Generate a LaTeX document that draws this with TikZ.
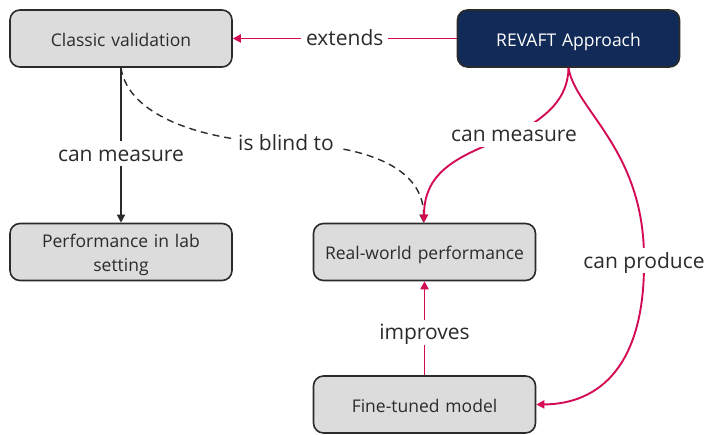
\documentclass[tikz,border=0pt]{standalone}
\usepackage{fontspec}
\setmainfont{Open Sans}
\usetikzlibrary{arrows.meta}
\definecolor{ink}{HTML}{2B2B2B}
\definecolor{boxfill}{HTML}{DCDCDC}
\definecolor{navy}{HTML}{122A57}
\definecolor{rose}{HTML}{D40A55}
% vertical strut that puts the baseline 7.7pt under the box centre
\newcommand{\boxstrut}{\rule[-5pt]{0pt}{25.4pt}}
\tikzset{
  box/.style={draw=ink, line width=1.6pt, fill=boxfill, rounded corners=10pt,
    minimum width=222pt, minimum height=57pt, text width=205pt, align=center,
    text=ink, font=\fontsize{17.5}{24}\selectfont, inner sep=0pt},
  darkbox/.style={box, fill=navy, text=white},
  lbl/.style={fill=white, text=ink, font=\fontsize{21}{25}\selectfont,
    inner xsep=5pt, inner ysep=4pt, text height=16pt, text depth=1pt},
  pinkline/.style={draw=rose, line width=1.9pt, -{Triangle[length=8pt,width=8pt]}},
  blackline/.style={draw=ink, line width=1.4pt, -{Triangle[length=8pt,width=8pt]}},
  dashline/.style={blackline, dash pattern=on 7pt off 5pt}
}
\begin{document}
\begin{tikzpicture}[x=1pt, y=-1pt]
\useasboundingbox (0,0) rectangle (708,435);
% boxes
\node[box]     (classic) at (121,38.5)  {\boxstrut Classic validation};
\node[darkbox] (revaft)  at (568.5,38.5) {\boxstrut REVAFT Approach};
\node[box]     (lab)     at (121,252)   {\rule{0pt}{19.6pt}Performance in lab\\setting};
\node[box]     (real)    at (424.5,252) {\boxstrut Real-world performance};
\node[box]     (tuned)   at (424.5,404.5) {\boxstrut Fine-tuned model};
% label anchors
\coordinate (blindpt) at (286,143.5);
\coordinate (measpt)  at (514,134.5);
\coordinate (prodpt)  at (644,260.5);
% connectors
\draw[pinkline] (revaft.west) -- node[lbl]{extends} (classic.east);
\draw[blackline] (classic.south) -- node[lbl, pos=0.555]{can measure} (lab.north);
\draw[dashline] (classic.south)
  .. controls (128,115) and (200,141) .. (blindpt)
  .. controls (360,145) and (424,165) .. ([xshift=-1pt]real.north);
\node[lbl] at (blindpt) {is blind to};
\draw[pinkline] (revaft.south)
  .. controls (568,100) and (545,118) .. (measpt)
  .. controls (460,155) and (424,170) .. ([xshift=-0.5pt]real.north);
\node[lbl] at (measpt) {can measure};
\draw[pinkline] (revaft.south)
  .. controls (575,110) and (645,150) .. (prodpt)
  .. controls (645,365) and (600,404) .. (tuned.east);
\node[lbl] at (prodpt) {can produce};
\draw[pinkline] (tuned.north) -- node[lbl, pos=0.46]{improves} (real.south);
\end{tikzpicture}
\end{document}
